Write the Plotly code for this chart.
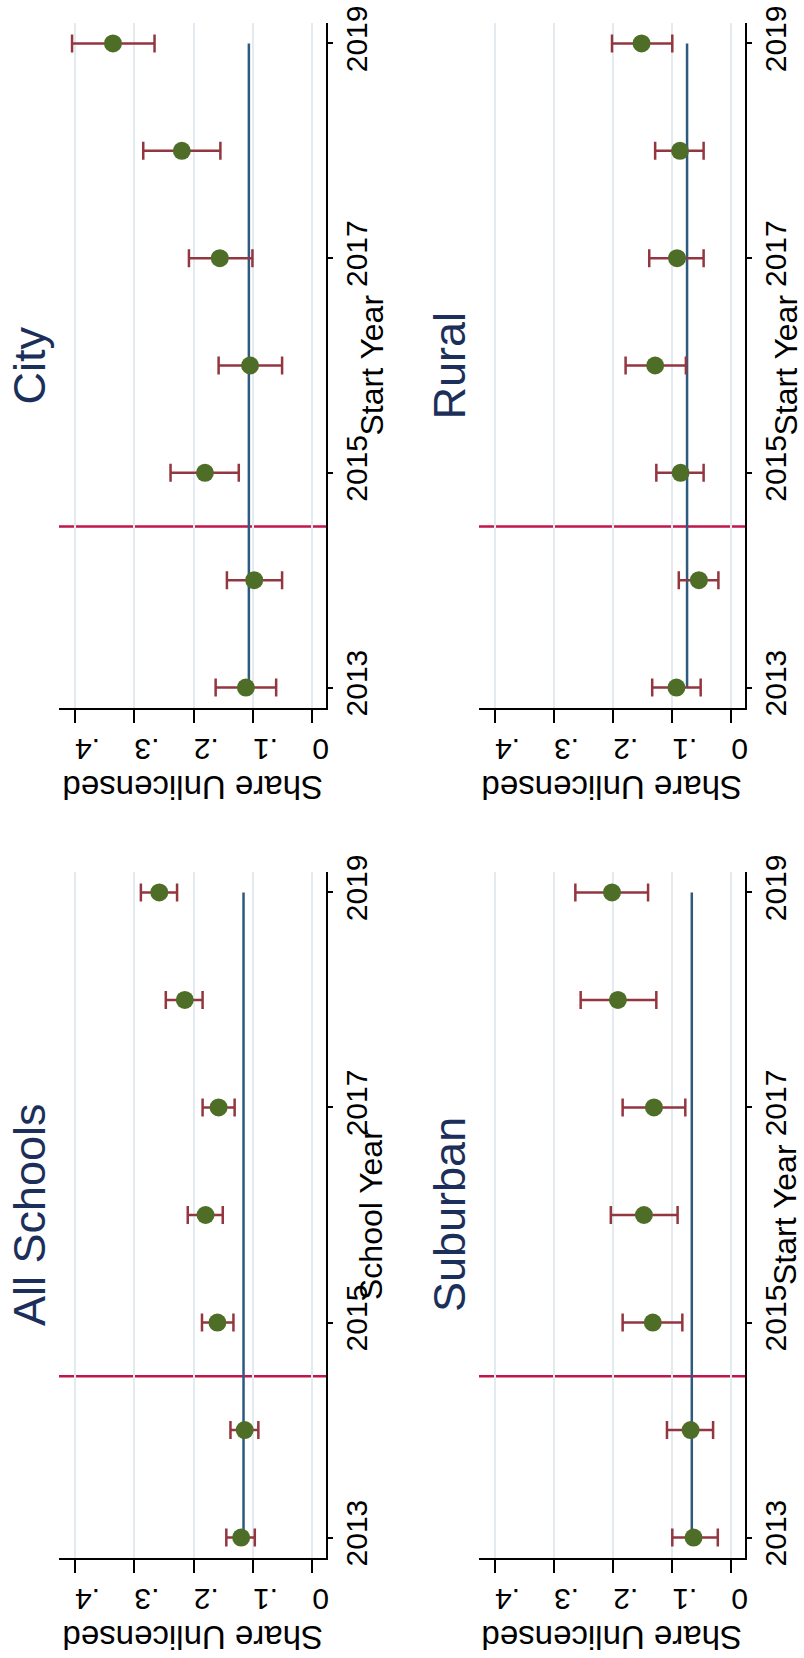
import plotly.graph_objects as go

# ---------------- data ----------------
years = [2013, 2014, 2015, 2016, 2017, 2018, 2019]
year_ticks = [2013, 2015, 2017, 2019]
share_ticks = [0, 0.1, 0.2, 0.3, 0.4]
share_ticktext = ["0", ".1", ".2", ".3", ".4"]

city_est = [0.112, 0.098, 0.181, 0.105, 0.156, 0.220, 0.336]
city_lo = [0.061, 0.051, 0.124, 0.051, 0.101, 0.155, 0.266]
city_hi = [0.163, 0.144, 0.239, 0.158, 0.208, 0.285, 0.405]
city_base = 0.107

rural_est = [0.093, 0.055, 0.086, 0.129, 0.092, 0.087, 0.152]
rural_lo = [0.052, 0.022, 0.047, 0.077, 0.047, 0.047, 0.100]
rural_hi = [0.134, 0.089, 0.127, 0.179, 0.139, 0.129, 0.202]
rural_base = 0.075

all_est = [0.120, 0.114, 0.160, 0.180, 0.158, 0.215, 0.258]
all_lo = [0.097, 0.091, 0.133, 0.151, 0.131, 0.185, 0.228]
all_hi = [0.145, 0.138, 0.186, 0.210, 0.185, 0.247, 0.289]
all_base = 0.116

sub_est = [0.064, 0.069, 0.133, 0.148, 0.131, 0.192, 0.202]
sub_lo = [0.023, 0.031, 0.083, 0.091, 0.078, 0.127, 0.141]
sub_hi = [0.100, 0.109, 0.184, 0.204, 0.184, 0.255, 0.264]
sub_base = 0.067

policy_year = 2014.5

panels = [
    ("City", "Start Year", city_est, city_lo, city_hi, city_base),
    ("Rural", "Start Year", rural_est, rural_lo, rural_hi, rural_base),
    ("All Schools", "School Year", all_est, all_lo, all_hi, all_base),
    ("Suburban", "Start Year", sub_est, sub_lo, sub_hi, sub_base),
]

# ---------------- styling ----------------
W, H = 804, 1658
FONT = "Liberation Sans, Arial, sans-serif"
GREEN = "#4e6e27"
ERR = "#93363f"
BLUE = "#2e5a80"
RED = "#c2164a"
GRID = "#e3ebf1"
TITLE = "#1c2f5b"

col_px = [(59, 326), (479, 745)]
row_px = [(23, 708), (872, 1558)]
title_x_px = [29, 449]
ytitle_x_px = [371, 785]

fig = go.Figure()

for i, (name, ytitle, est, lo, hi, base) in enumerate(panels):
    r, c = divmod(i, 2)
    n = i + 1
    xa = "x" if n == 1 else f"x{n}"
    ya = "y" if n == 1 else f"y{n}"

    x0, x1 = col_px[c]
    y0, y1 = row_px[r]
    xdom = [x0 / W, x1 / W]
    ydom = [1 - y1 / H, 1 - y0 / H]

    # policy line (drawn first so it sits under the data)
    fig.add_shape(type="line", xref=f"{xa} domain", yref=ya,
                  x0=0, x1=1, y0=policy_year, y1=policy_year,
                  line=dict(color=RED, width=2.5), layer="below")

    fig.add_trace(go.Scatter(
        x=[base, base], y=[years[0], years[-1]], mode="lines",
        line=dict(color=BLUE, width=2.5), xaxis=xa, yaxis=ya,
        showlegend=False, hoverinfo="skip"))

    fig.add_trace(go.Scatter(
        x=est, y=years, mode="markers",
        marker=dict(color=GREEN, size=18),
        error_x=dict(type="data", symmetric=False,
                     array=[h - e for h, e in zip(hi, est)],
                     arrayminus=[e - l for e, l in zip(est, lo)],
                     color=ERR, thickness=2.5, width=9),
        xaxis=xa, yaxis=ya, showlegend=False))

    fig.layout[f"xaxis{'' if n == 1 else n}"] = dict(
        domain=xdom, anchor=ya, range=[0.427, -0.023],
        tickvals=share_ticks, ticktext=share_ticktext, tickangle=180,
        ticks="outside", ticklen=13, tickwidth=2, tickcolor="black",
        ticklabelstandoff=10,
        showline=True, linecolor="black", linewidth=2,
        showgrid=True, gridcolor=GRID, gridwidth=2, zeroline=False,
        tickfont=dict(family=FONT, size=30, color="black"),
        automargin=False, fixedrange=True)

    fig.layout[f"yaxis{'' if n == 1 else n}"] = dict(
        domain=ydom, anchor=xa, side="right",
        range=[2012.81, 2019.19],
        tickvals=year_ticks, ticktext=[str(v) for v in year_ticks],
        tickangle=-90, ticks="outside", ticklen=5, tickwidth=1.5,
        ticklabelstandoff=-2,
        tickcolor="black", showline=True, linecolor="black", linewidth=2,
        showgrid=False, zeroline=False,
        tickfont=dict(family=FONT, size=30, color="black"),
        automargin=False, fixedrange=True)

    # year-axis title (reads bottom to top)
    fig.add_annotation(text=ytitle, xref="paper", yref="paper",
                       x=ytitle_x_px[c] / W, y=(ydom[0] + ydom[1]) / 2,
                       xanchor="center", yanchor="middle",
                       textangle=-90, showarrow=False,
                       font=dict(family=FONT, size=32, color="black"))

    # value-axis title (upside down)
    fig.add_annotation(text="Share Unlicensed", xref=f"{xa} domain", yref="paper",
                       x=0.5, y=1 - (y1 + 80) / H, textangle=180,
                       xanchor="center", yanchor="middle",
                       showarrow=False,
                       font=dict(family=FONT, size=33, color="black"))

    # panel title
    fig.add_annotation(text=name, xref="paper", yref="paper",
                       x=title_x_px[c] / W, y=(ydom[0] + ydom[1]) / 2,
                       xanchor="center", yanchor="middle",
                       textangle=-90, showarrow=False,
                       font=dict(family=FONT, size=45, color=TITLE))

fig.update_layout(
    width=W, height=H, margin=dict(l=0, r=0, t=0, b=0),
    paper_bgcolor="white", plot_bgcolor="white",
    font=dict(family=FONT, color="black"),
    showlegend=False)

fig.write_html("out.html", config={"displayModeBar": False})
